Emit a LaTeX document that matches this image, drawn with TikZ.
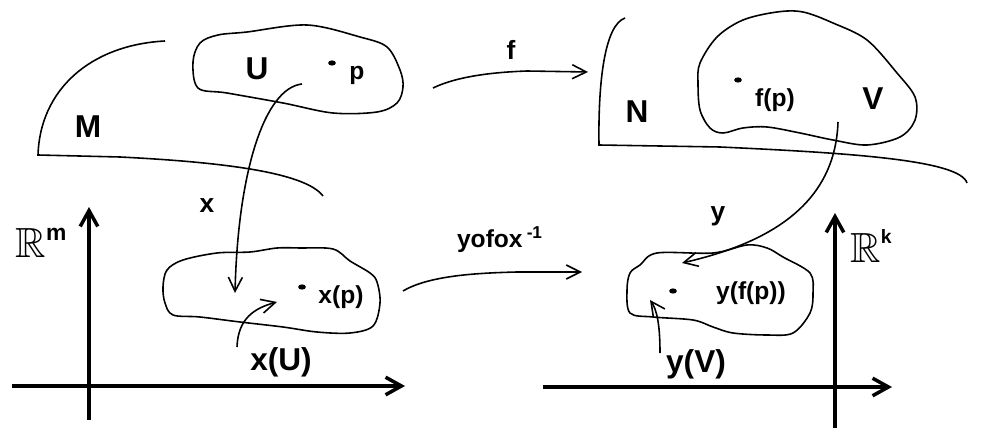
\documentclass[tikz,border=0pt]{standalone}
\usepackage{fontspec}
\setmainfont{Liberation Sans}
\usepackage{amssymb}
\usetikzlibrary{arrows.meta}

\tikzset{
  big/.style={font=\fontsize{18}{21}\selectfont\bfseries},
  small/.style={font=\fontsize{14}{17}\selectfont\bfseries},
  maplbl/.style={font=\fontsize{15}{18}\selectfont\bfseries},
  space/.style={font=\fontsize{24}{26}\selectfont},
  blob/.style={line width=0.9pt},
  axis/.style={line width=2pt,-{Straight Barb[length=9pt,width=10pt]}},
}
\newcommand{\dimsup}[3]{\raisebox{#1}{\fontsize{#2}{#2}\selectfont\bfseries #3}}

\begin{document}
\begin{tikzpicture}[x=0.02cm,y=-0.02cm,line width=0.9pt,>={Straight Barb[length=8pt,width=8pt]}]
  \useasboundingbox (0,0) rectangle (989,428);

  % manifolds M and N
  \draw (165,41) .. controls (90,45) and (40,90) .. (38,155) -- (120,157)
      .. controls (220,162) and (305,172) .. (323,196);
  \draw (625,18) .. controls (605,25) and (598,80) .. (599,145) -- (720,147)
      .. controls (850,153) and (960,160) .. (967,183);

  % open sets
  \draw[blob] plot[smooth cycle,tension=0.55] coordinates {(218,35) (247,32) (307,25) (360,37)
      (387,47) (400,70) (403,87) (397,103) (377,112) (333,113) (283,103) (227,93)
      (198,88) (193,62) (200,43)};
  \draw[blob] plot[smooth cycle,tension=0.55] coordinates {(700,63) (717,37) (743,20) (777,12)
      (803,12) (833,23) (867,40) (897,73) (915,97) (915,120) (900,137) (867,145)
      (833,140) (800,133) (767,127) (743,128) (723,133) (710,128) (700,110) (698,83)};
  \draw[blob] plot[smooth cycle,tension=0.55] coordinates {(167,270) (183,260) (217,253) (250,252)
      (277,248) (300,248) (333,249) (350,261) (370,273) (377,282) (380,303) (373,326)
      (350,333) (317,332) (283,327) (240,322) (200,317) (173,315) (165,303) (163,287)};
  \draw[blob] plot[smooth cycle,tension=0.55] coordinates {(640,265) (657,253) (713,253) (747,245)
      (767,248) (783,257) (810,273) (813,293) (810,313) (793,333) (767,335) (733,333)
      (713,327) (693,320) (653,317) (630,313) (627,290) (630,273)};

  % axes
  \draw[axis] (89,420) -- (89,207);
  \draw[axis] (12,386) -- (405,386);
  \draw[axis] (835,428) -- (835,213);
  \draw[axis] (543,387) -- (892,387);

  % points
  \fill (332,63) ellipse (2.2pt and 1.5pt);
  \fill (738,80) ellipse (2.2pt and 1.5pt);
  \fill (302,287) ellipse (2.2pt and 1.5pt);
  \fill (673,291) ellipse (2.2pt and 1.5pt);

  % labels
  \node[big] (M) at (88,127) {M};
  \node[big] (U) at (257,69) {U};
  \node[small] (p) at (357,75) {p};
  \node[big] (N) at (637,112) {N};
  \node[small] (fp) at (775,100) {f(p)};
  \node[big] (V) at (873,99) {V};
  \node[small] (xp) at (341,297) {x(p)};
  \node[big] (xU) at (281,362) {x(U)};
  \node[small] (yfp) at (751,293) {y(f(p))};
  \node[big] (yV) at (696,364) {y(V)};
  \node[maplbl] (f) at (511,50) {f};
  \node[maplbl] (x) at (207,206) {x};
  \node[maplbl] (y) at (718,216) {y};
  \node[small] (yfx) at (500,240) {yofox\,\textsuperscript{-1}};
  \node[space] (Rm) at (41,243) {\(\mathbb{R}\)\dimsup{10pt}{13}{m}};
  \node[space] (Rk) at (871,246) {\(\mathbb{R}\)\dimsup{11pt}{11}{k}};

  % maps
  \coordinate (xs) at (302,84);
  \coordinate (xe) at (235,293);
  \coordinate (ys) at (838,122);
  \coordinate (ye) at (682,263);
  \coordinate (fs) at (433,88);
  \coordinate (fe) at (588,72);
  \coordinate (gs) at (403,291);
  \coordinate (ge) at (582,272);
  \coordinate (xUs) at (237,347);
  \coordinate (xUe) at (277,302);
  \coordinate (yVs) at (660,353);
  \coordinate (yVe) at (650,300);
  \draw[->] (xs) .. controls (265,88) and (238,170) .. (xe);
  \draw[->] (ys) .. controls (835,210) and (760,245) .. (ye);
  \draw[->] (fs) .. controls (460,75) and (500,72) .. (527,71) -- (fe);
  \draw[->] (gs) .. controls (430,275) and (480,273) .. (517,272) -- (ge);
  \draw[->] (xUs) .. controls (238,318) and (255,308) .. (xUe);
  \draw[->] (yVs) .. controls (660,325) and (657,310) .. (yVe);
\end{tikzpicture}
\end{document}
